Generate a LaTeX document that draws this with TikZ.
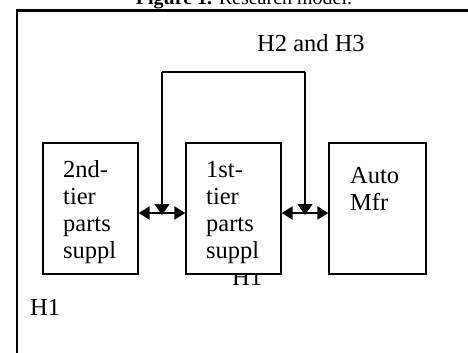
\documentclass[tikz,border=0pt]{standalone}
\usepackage{fontspec}
\setmainfont{Liberation Serif}
\usetikzlibrary{arrows.meta}
\tikzset{
	box/.style={draw, line width=1.3pt, fill=white, minimum height=131pt, inner sep=0pt},
	txt/.style={anchor=base west, inner sep=0pt, align=left, font=\fontsize{24.5}{26.7}\selectfont},
	link/.style={line width=2pt, {Triangle[length=11pt, width=13pt]}-{Triangle[length=11pt, width=13pt]}},
	drop/.style={line width=1.1pt, -{Triangle[length=11pt, width=15pt]}}
}

\begin{document}
\begin{tikzpicture}[x=1pt, y=-1pt]
		\useasboundingbox (0, 0) rectangle (468, 353);
		\node[anchor=base, inner sep=0pt, font=\fontsize{20}{22}\selectfont](title)at(244, 5){\textbf{Figure 1.} Research model.};
		\draw[line width=2pt](16.5, 360)--(16.5, 11);
		\draw[line width=3pt](15.5, 11)--(475, 11);
		\node[txt](h23)at(257, 52){H2 and H3};
		\node[txt](h1a)at(30, 315){H1};
		\node[txt](h1b)at(232, 285){H1};
		% the three firms
		\node[box, minimum width=95pt](tier2)at(90.5, 208.5){};
		\node[box, minimum width=95pt](tier1)at(233.5, 208.5){};
		\node[box, minimum width=97pt](auto)at(377.5, 208.5){};
		\node[txt](t2)at(63, 258){2nd-\\tier\\parts\\suppl};
		\node[txt](t1)at(206, 258){1st-\\tier\\parts\\suppl};
		\node[txt](ta)at(350, 210){Auto\\Mfr};
		% links
		\draw[link]([yshift=-4.5pt]tier2.east)--coordinate[midway](m1)([yshift=-4.5pt]tier1.west);
		\draw[link]([yshift=-4.5pt]tier1.east)--coordinate[midway](m2)([yshift=-4.5pt]auto.west);
		\coordinate(top)at(0, 72);
		\draw[line width=1.1pt](m1|-top)--(m2|-top);
		\draw[drop](m1|-top)--([yshift=-2pt]m1);
		\draw[drop](m2|-top)--([yshift=-2pt]m2);
	\end{tikzpicture}
\end{document}
